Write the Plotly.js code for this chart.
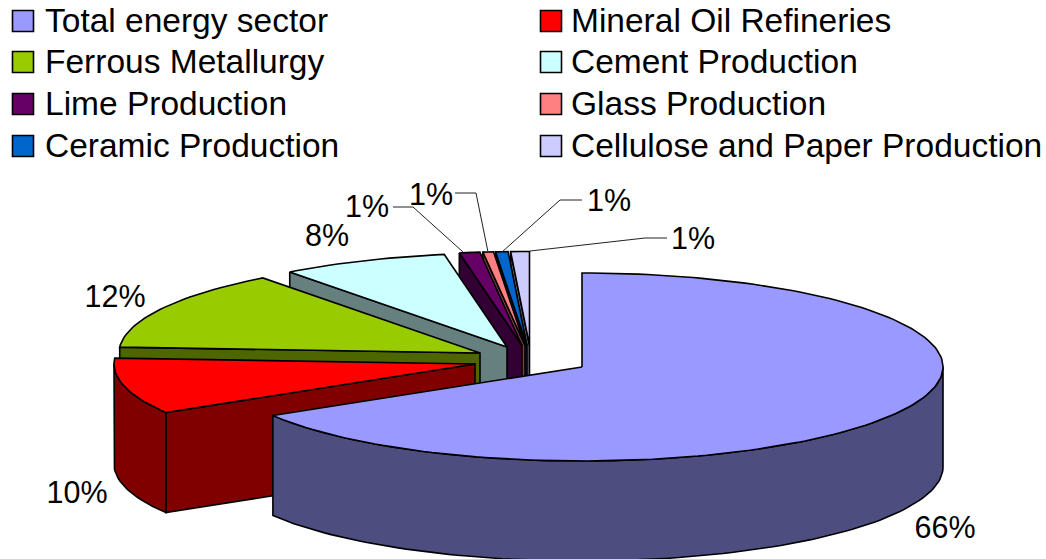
<!DOCTYPE html>
<html><head><meta charset="utf-8">
<script src="https://cdn.plot.ly/plotly-3.0.1.min.js"></script>
<style>html,body{margin:0;padding:0;background:#fff;overflow:hidden}#chart{width:1046px;height:559px}</style>
</head><body><div id="chart"></div>
<script>
// ---- data ----
const categories = ["Total energy sector","Mineral Oil Refineries","Ferrous Metallurgy","Cement Production","Lime Production","Glass Production","Ceramic Production","Cellulose and Paper Production"];
const shares = [66,10,12,8,1,1,1,1];
// ---- style ----
const topColors  = ["#9999FF","#FF0000","#99CC00","#CCFFFF","#660066","#FF8080","#0066CC","#CCCCFF"];
const sideColors = ["#4D4D80","#800000","#4D6600","#668080","#330033","#804040","#003366","#666680"];
// ---- 3D view geometry (plot units = px) ----
const RX = 361, RY = 94, DEPTH = 100;
const apexX = [582,475,480,507,522,525,527,529.5];
const apexY = [367,364,353,347,345.5,345.5,345.5,345.5];
// view distortion of the slice boundaries, degrees
const boundaryWarp = [0,1.3,0,6.2,4.4,4.1,2.2,0.6,0];
const legendSwatchX = [23,551], legendTextX = [45,571], legendY = [21,62,104,146];
const legendTextDy = 2.5;
const labelX = [945,77,115,327,367,431,609,693], labelY = [530,495,299,238,209,197,203,241];
const leaderX = [[393,413,463],[455,476,488],[582,560,502],[667,645,530]];
const leaderY = [[207,207,252],[193,193,252],[200,200,252],[238,238,251]];

const rad = d => d*Math.PI/180;
let cum = 0;
const bounds = [0];
shares.forEach(s => { cum += s*3.6; bounds.push(cum); });
const ang = bounds.map((b,i)=>b+boundaryWarp[i]);

const traces = [];
const face = (x,y,color) => traces.push({type:'scatter',mode:'lines',x,y,fill:'toself',fillcolor:color,
  line:{color:'#000',width:1.6},hoverinfo:'skip',showlegend:false});
const arc = (cx,cy,a0,a1) => {
  const n = Math.max(2,Math.ceil((a1-a0)/1.5)), xs=[], ys=[];
  for(let i=0;i<=n;i++){const t=rad(a0+(a1-a0)*i/n); xs.push(cx+RX*Math.sin(t)); ys.push(cy-RY*Math.cos(t));}
  return [xs,ys];
};
// painter's order: back slices first, the first slice last
for(let i=shares.length-1;i>=0;i--){
  const a0=ang[i], a1=ang[i+1], cx=apexX[i], cy=apexY[i];
  // cut face on the start boundary, facing the viewer for the left half
  if(Math.sin(rad(a0))<-1e-6){
    const ex=cx+RX*Math.sin(rad(a0)), ey=cy-RY*Math.cos(rad(a0));
    face([ex,cx,cx,ex,ex],[ey,cy,cy+DEPTH,ey+DEPTH,ey],sideColors[i]);
  }
  // rim, front half only
  const r0=Math.max(a0,90), r1=Math.min(a1,270);
  if(r1>r0){
    const [xs,ys]=arc(cx,cy,r0,r1);
    face(xs.concat(xs.slice().reverse()).concat([xs[0]]),
         ys.concat(ys.slice().reverse().map(v=>v+DEPTH)).concat([ys[0]]),sideColors[i]);
  }
  // top
  const [tx,ty]=arc(cx,cy,a0,a1);
  face([cx].concat(tx,[cx]),[cy].concat(ty,[cy]),topColors[i]);
}
// leader lines
leaderX.forEach((lx,i)=>traces.push({type:'scatter',mode:'lines',x:lx,y:leaderY[i],
  line:{color:'#222',width:1},hoverinfo:'skip',showlegend:false}));
// data labels
traces.push({type:'scatter',mode:'text',x:labelX,y:labelY,text:shares.map(s=>s+'%'),
  textposition:'middle center',textfont:{family:'Liberation Sans, Arial, sans-serif',size:30.5,color:'#000'},
  hoverinfo:'skip',showlegend:false});
// legend
const sx=[],sy=[],tx=[],ty=[];
categories.forEach((c,i)=>{const r=Math.floor(i/2);
  sx.push(legendSwatchX[i%2]); sy.push(legendY[r]);
  tx.push(legendTextX[i%2]); ty.push(legendY[r]+legendTextDy);});
traces.push({type:'scatter',mode:'markers',x:sx,y:sy,
  marker:{symbol:'square',size:21,color:topColors,line:{color:'#000',width:1.6}},
  hoverinfo:'skip',showlegend:false});
traces.push({type:'scatter',mode:'text',x:tx,y:ty,text:categories,textposition:'middle right',
  textfont:{family:'Liberation Sans, Arial, sans-serif',size:33.5,color:'#000'},
  hoverinfo:'skip',showlegend:false});

Plotly.newPlot('chart',traces,{
  width:1046,height:559,margin:{l:0,r:0,t:0,b:0},
  paper_bgcolor:'#fff',plot_bgcolor:'#fff',showlegend:false,
  xaxis:{range:[0,1046],visible:false,fixedrange:true},
  yaxis:{range:[559,0],visible:false,fixedrange:true}
},{displayModeBar:false,staticPlot:true});
</script></body></html>
